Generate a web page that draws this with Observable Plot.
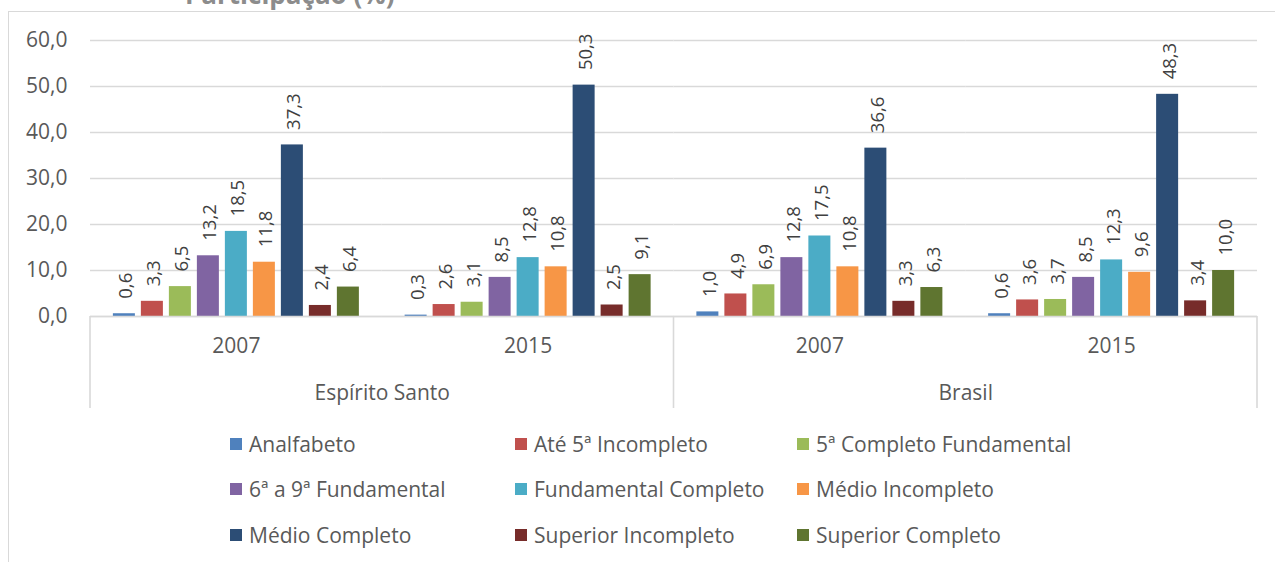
<!DOCTYPE html>
<html>
<head>
<meta charset="utf-8">
<script src="https://cdn.jsdelivr.net/npm/d3@7"></script>
<script src="https://cdn.jsdelivr.net/npm/@observablehq/plot@0.6"></script>
<style>
  html, body { margin: 0; padding: 0; background: #fff; }
  #wrap { position: relative; width: 1275px; height: 562px; overflow: hidden; font-family: "Open Sans", sans-serif; }
  #frame { position: absolute; left: 8px; top: 11px; width: 1400px; height: 700px; border-left: 1.5px solid #d9d9d9; border-top: 1.5px solid #d9d9d9; }
  #title { position: absolute; left: 185px; top: -22px; font-size: 26px; font-weight: bold; color: #8c8c8c; white-space: nowrap; line-height: 32px; }
  #chart { position: absolute; left: 0; top: 0; }
  #legend { position: absolute; left: 230px; top: 421px; display: grid; grid-template-columns: 285px 282px auto; grid-auto-rows: 45.5px; font-size: 21px; color: #595959; }
  .item { display: flex; align-items: center; white-space: nowrap; }
  .sw { width: 12px; height: 12px; margin-right: 7px; flex: none; }
</style>
</head>
<body>
<div id="wrap">
  <div id="frame"></div>
  <div id="title">Participação (%)</div>
  <div id="chart"></div>
  <div id="legend"></div>
</div>
<script>
const regions = ["Espírito Santo", "Brasil"];
const years = ["2007", "2015"];
const categories = [
  "Analfabeto", "Até 5ª Incompleto", "5ª Completo Fundamental",
  "6ª a 9ª Fundamental", "Fundamental Completo", "Médio Incompleto",
  "Médio Completo", "Superior Incompleto", "Superior Completo"
];
const colors = ["#4F81BD", "#C0504D", "#9BBB59", "#8064A2", "#4BACC6", "#F79646", "#2C4D75", "#772C2A", "#5F7530"];
const yTicks = [0, 10, 20, 30, 40, 50, 60];

const espiritoSanto2007 = [0.6, 3.3, 6.5, 13.2, 18.5, 11.8, 37.3, 2.4, 6.4];
const espiritoSanto2015 = [0.3, 2.6, 3.1, 8.5, 12.8, 10.8, 50.3, 2.5, 9.1];
const brasil2007 = [1.0, 4.9, 6.9, 12.8, 17.5, 10.8, 36.6, 3.3, 6.3];
const brasil2015 = [0.6, 3.6, 3.7, 8.5, 12.3, 9.6, 48.3, 3.4, 10.0];

const series = [
  {region: regions[0], year: years[0], values: espiritoSanto2007},
  {region: regions[0], year: years[1], values: espiritoSanto2015},
  {region: regions[1], year: years[0], values: brasil2007},
  {region: regions[1], year: years[1], values: brasil2015}
];
const keys = series.map(s => s.region + " " + s.year);
const data = series.flatMap(s => s.values.map((v, i) => ({key: s.region + " " + s.year, region: s.region, year: s.year, cat: categories[i], value: v})));
const facetRows = series.map(s => ({key: s.region + " " + s.year, region: s.region, year: s.year}));
const regionRows = facetRows.filter(d => d.year === years[0]);
const fmt = v => v.toFixed(1).replace(".", ",");

const plot = Plot.plot({
  width: 1275,
  height: 416,
  marginLeft: 90,
  marginRight: 18,
  marginTop: 40,
  marginBottom: 100,
  style: {fontFamily: "Open Sans, sans-serif", fontSize: "21px", color: "#595959", background: "transparent", overflow: "visible"},
  fx: {domain: keys, padding: 0, axis: null, round: false},
  x: {domain: categories, paddingInner: 0.214, paddingOuter: 0.817, axis: null, round: false},
  y: {domain: [0, 60], ticks: yTicks, tickFormat: fmt, tickSize: 0, tickPadding: 23, label: null},
  color: {domain: categories, range: colors},
  marks: [
    Plot.gridY(yTicks, {stroke: "#d9d9d9", strokeOpacity: 1, strokeWidth: 1.4}),
    Plot.axisY({ticks: yTicks, tickFormat: fmt, tickSize: 0, tickPadding: 23, label: null, fill: "#595959", facetAnchor: "left"}),
    Plot.barY(data, {fx: "key", x: "cat", y: "value", fill: "cat"}),
    Plot.text(data, {fx: "key", x: "cat", y: "value", text: d => fmt(d.value), rotate: -90, textAnchor: "start", dy: -15, dx: 2, fill: "#404040", fontSize: 18.5}),
    Plot.ruleY([0], {stroke: "#d9d9d9", strokeWidth: 1.6}),
    Plot.text(facetRows, {fx: "key", text: "year", frameAnchor: "bottom", dy: 36, fill: "#595959", fontSize: 21}),
    Plot.text(regionRows, {fx: "key", text: "region", frameAnchor: "bottom-right", textAnchor: "middle", dy: 83, fill: "#595959", fontSize: 21})
  ]
});
document.getElementById("chart").appendChild(plot);

// category-axis box lines, positioned through the plot's own scales
const fx = plot.scale("fx");
const y = plot.scale("y");
const y0 = y.apply(0);
const bw = fx.bandwidth;
const edges = [fx.apply(keys[0]), fx.apply(keys[2]), fx.apply(keys[3]) + bw];
const svg = d3.select(plot);
svg.append("g").selectAll("line").data(edges).join("line")
  .attr("x1", d => d).attr("x2", d => d)
  .attr("y1", y0).attr("y2", y0 + 92)
  .attr("stroke", "#d9d9d9").attr("stroke-width", 1.6);

// legend
const legend = d3.select("#legend");
categories.forEach((c, i) => {
  const it = legend.append("div").attr("class", "item");
  it.append("div").attr("class", "sw").style("background", colors[i]);
  it.append("span").text(c);
});
</script>
</body>
</html>
